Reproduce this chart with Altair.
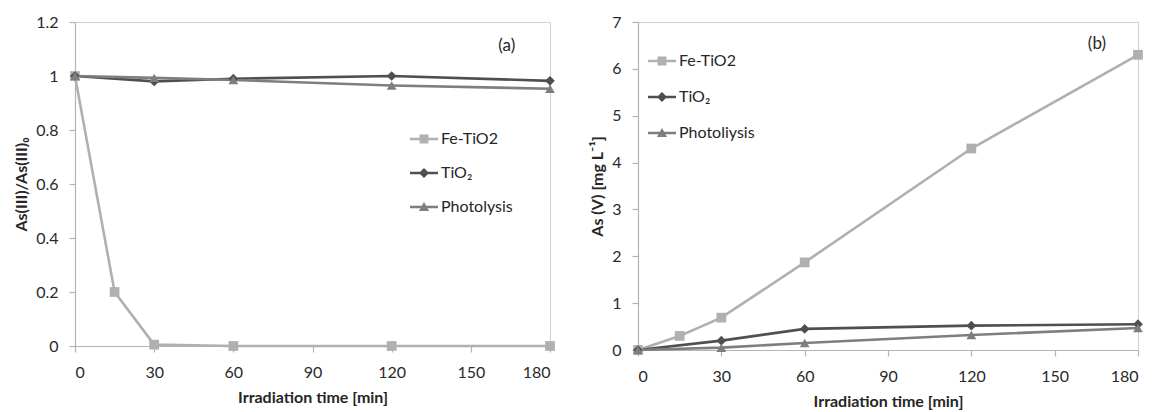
import altair as alt
import pandas as pd

# ---------------- data ----------------
times_fe = [0, 15, 30, 60, 120, 180]
times = [0, 30, 60, 120, 180]

# panel (a): As(III)/As(III)0
a_fe = [1.0, 0.20, 0.005, 0.0, 0.0, 0.0]
a_tio2 = [1.0, 0.98, 0.99, 1.0, 0.982]
a_photo = [1.0, 0.993, 0.985, 0.965, 0.953]

# panel (b): As(V) [mg/L]
b_fe = [0.0, 0.30, 0.69, 1.87, 4.30, 6.30]
b_tio2 = [0.0, 0.20, 0.45, 0.52, 0.55]
b_photo = [0.0, 0.05, 0.15, 0.32, 0.47]

names_a = ["Fe-TiO2", "TiO₂", "Photolysis"]
names_b = ["Fe-TiO2", "TiO₂", "Photoliysis"]
colors = ["#b0b0b0", "#4f4f4f", "#7e7e7e"]
markers = ["square", "diamond", "triangle-up"]
legend_paths = [
    "M-1,-0.09H1V0.09H-1Z M-0.32,-0.32H0.32V0.32H-0.32Z",
    "M-1,-0.09H1V0.09H-1Z M0,-0.36L0.36,0L0,0.36L-0.36,0Z",
    "M-1,-0.09H1V0.09H-1Z M0,-0.36L0.36,0.28L-0.36,0.28Z",
]

x_ticks = [0, 30, 60, 90, 120, 150, 180]
ya_ticks = [0, 0.2, 0.4, 0.6, 0.8, 1.0, 1.2]
yb_ticks = [0, 1, 2, 3, 4, 5, 6, 7]

tag_a = {"t": [163.6], "v": [1.112], "txt": ["(a)"]}
tag_b = {"t": [165.2], "v": [6.53], "txt": ["(b)"]}

FONT = "Lato"


def long_df(names, fe, tio2, photo):
    rows = []
    for t, v in zip(times_fe, fe):
        rows.append({"t": t, "v": v, "series": names[0]})
    for t, v in zip(times, tio2):
        rows.append({"t": t, "v": v, "series": names[1]})
    for t, v in zip(times, photo):
        rows.append({"t": t, "v": v, "series": names[2]})
    df = pd.DataFrame(rows)
    df["label"] = df["series"]
    return df


def panel(df, names, ydomain, yticks, ytitle, yfmt, leg_x, leg_y, row_pad, tag, w, h):
    x = alt.X("t:Q", scale=alt.Scale(domain=[0, 180], nice=False),
              axis=alt.Axis(values=x_ticks, title="Irradiation time [min]"))
    y = alt.Y("v:Q", scale=alt.Scale(domain=ydomain, nice=False),
              axis=alt.Axis(values=yticks, format=yfmt, title=ytitle))
    order = alt.Order("t:Q")
    cscale = alt.Scale(domain=names, range=colors)

    lines = alt.Chart(df).mark_line(strokeWidth=2.6).encode(
        x=x, y=y, order=order,
        color=alt.Color("series:N", scale=cscale, legend=None),
        detail="series:N",
    )
    pts = alt.Chart(df).mark_point(filled=True, opacity=1, size=95).encode(
        x=x, y=y,
        color=alt.Color("series:N", scale=cscale, legend=None),
        shape=alt.Shape("series:N", scale=alt.Scale(domain=names, range=markers), legend=None),
    )
    leg = alt.Legend(title=None, orient="none", legendX=leg_x, legendY=leg_y,
                     labelFont=FONT, labelFontSize=16, labelColor="#262626",
                     symbolSize=784, symbolStrokeWidth=0, symbolOpacity=1,
                     labelOffset=3, rowPadding=row_pad)
    legend_layer = alt.Chart(df).transform_filter("datum.t < 0").mark_point(
        filled=True, opacity=1).encode(
        x=x, y=y,
        color=alt.Color("label:N", scale=alt.Scale(domain=names, range=colors), legend=leg),
        shape=alt.Shape("label:N", scale=alt.Scale(domain=names, range=legend_paths), legend=leg),
    )
    tag_layer = alt.Chart(pd.DataFrame(tag)).mark_text(
        font=FONT, fontSize=17, color="#262626").encode(
        x=alt.X("t:Q"), y=alt.Y("v:Q"), text="txt:N")

    return alt.layer(lines, pts, legend_layer, tag_layer).resolve_scale(
        color="independent", shape="independent"
    ).properties(width=w, height=h)


dfa = long_df(names_a, a_fe, a_tio2, a_photo)
dfb = long_df(names_b, b_fe, b_tio2, b_photo)

pa = panel(dfa, names_a, [0, 1.2], ya_ticks, "As(III)/As(III)₀", "~g", 335, 103, 12, tag_a, 475, 324)
pb = panel(dfb, names_b, [0, 7], yb_ticks, "As (V) [mg L⁻¹]", "d", 10, 25, 14, tag_b, 500, 328)

chart = alt.hconcat(pa, pb, spacing=33).properties(
    padding=5, background="white"
).configure_view(
    stroke="#d0d0d0", strokeWidth=1
).configure_axis(
    grid=False,
    domainColor="#b4b4b4", domainWidth=1.2,
    tickColor="#b4b4b4", tickSize=6, tickWidth=1.2,
    labelFont=FONT, labelFontSize=16, labelColor="#2a2a2a", labelPadding=12,
    titleFont=FONT, titleFontSize=16, titleFontWeight="bold", titleColor="#262626",
    titlePadding=9,
).configure_axisY(labelPadding=11, titlePadding=6)

chart.save("out.html", embed_options={"renderer": "svg", "actions": False})
